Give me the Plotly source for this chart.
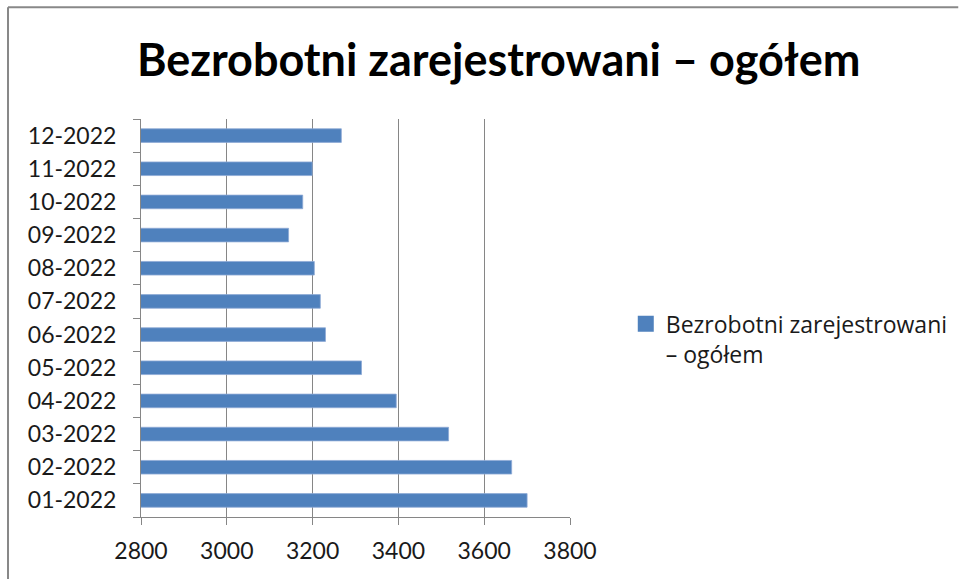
import plotly.graph_objects as go

# ---------------------------------------------------------------------------
# Data
# ---------------------------------------------------------------------------

months = ["01-2022", "02-2022", "03-2022", "04-2022", "05-2022", "06-2022",
          "07-2022", "08-2022", "09-2022", "10-2022", "11-2022", "12-2022"]
unemployed = [3700, 3664, 3517, 3395, 3314, 3230, 3218, 3204, 3144, 3177, 3199, 3267]
x_ticks = [2800, 3000, 3200, 3400, 3600, 3800]

series_name = "Bezrobotni zarejestrowani<br>– ogółem"
title_text = "Bezrobotni zarejestrowani – ogółem"

FONT = "Lato, 'Open Sans', sans-serif"
GRID = "#868686"
BAR = "#4F81BD"

# ---------------------------------------------------------------------------
# Figure
# ---------------------------------------------------------------------------

fig = go.Figure()

fig.add_trace(go.Bar(
    x=unemployed,
    y=months,
    orientation="h",
    name=series_name,
    marker=dict(color=BAR, line=dict(color="#8EAAD6", width=0.8)),
    showlegend=False,
))

# legend entry with a bigger square than the default bar swatch
fig.add_trace(go.Scatter(
    x=[None], y=[None],
    mode="markers",
    name=series_name,
    marker=dict(symbol="square", size=16, color=BAR),
    hoverinfo="skip",
))

fig.update_layout(
    width=959,
    height=579,
    paper_bgcolor="white",
    plot_bgcolor="white",
    margin=dict(l=141, r=389, t=119, b=62, autoexpand=False),
    bargap=0.59,
    font=dict(family=FONT, size=23, color="#1a1a1a"),
    title=dict(
        text=title_text,
        font=dict(family=FONT, size=45, color="black", weight="bold"),
        xref="container", x=0.52, xanchor="center",
        yref="container", y=0.896, yanchor="middle",
    ),
    legend=dict(
        x=1.13, xanchor="left",
        y=0.448, yanchor="middle",
        valign="top",
        font=dict(family="'Open Sans', sans-serif", size=23, color="#1a1a1a"),
        bgcolor="rgba(0,0,0,0)",
        itemwidth=30,
    ),
    showlegend=True,
)

fig.update_xaxes(
    range=[2800, 3800],
    tickvals=x_ticks,
    showgrid=True, gridcolor=GRID, gridwidth=1,
    showline=True, linecolor=GRID, linewidth=1,
    ticks="outside", ticklen=7, tickcolor=GRID,
    ticklabelstandoff=6,
    zeroline=False,
    tickfont=dict(family=FONT, size=23, color="#1a1a1a"),
)

fig.update_yaxes(
    type="category",
    range=[-0.5, len(months) - 0.5],
    showgrid=False,
    showline=True, linecolor=GRID, linewidth=1,
    ticks="outside", ticklen=7, tickcolor=GRID,
    tickson="boundaries",
    ticklabelstandoff=19,
    tickfont=dict(family=FONT, size=23, color="#1a1a1a"),
)

# chart frame (only left and top edges visible in the crop)
fig.add_shape(type="line", xref="paper", yref="paper",
              x0=-0.31, x1=-0.31, y0=-0.2, y1=1.281,
              line=dict(color="#888888", width=2))
fig.add_shape(type="line", xref="paper", yref="paper",
              x0=-0.31, x1=1.905, y0=1.281, y1=1.281,
              line=dict(color="#888888", width=2))

fig.write_html("out.html", config={"displayModeBar": False},
               post_script="document.body.style.margin='0';"
                           "document.body.style.overflow='hidden';")
